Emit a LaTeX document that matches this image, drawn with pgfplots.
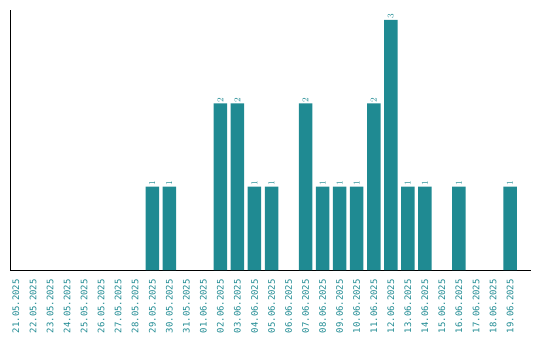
\documentclass[border=0pt]{standalone}
\usepackage{pgfplots}
\pgfplotsset{compat=1.18}
\usepackage{fontspec}
\setmainfont{DejaVu Sans Mono}
\definecolor{barteal}{RGB}{31,138,146}

\begin{document}
\begin{tikzpicture}
\begin{axis}[
    scale only axis,
    width=520.5bp, height=260bp,
    xmin=-0.35, xmax=30.2,
    ymin=0, ymax=3.12,
    axis x line=bottom, axis y line=left,
    axis line style={-, black, line width=0.9pt},
    ytick=\empty,
    xtick={0,...,29},
    xticklabels={21.05.2025,22.05.2025,23.05.2025,24.05.2025,25.05.2025,26.05.2025,27.05.2025,28.05.2025,29.05.2025,30.05.2025,31.05.2025,01.06.2025,02.06.2025,03.06.2025,04.06.2025,05.06.2025,06.06.2025,07.06.2025,08.06.2025,09.06.2025,10.06.2025,11.06.2025,12.06.2025,13.06.2025,14.06.2025,15.06.2025,16.06.2025,17.06.2025,18.06.2025,19.06.2025},
    major tick length=0pt,
    xticklabel style={rotate=90, anchor=east, text=barteal, font=\fontsize{9}{10}\selectfont, inner sep=0pt},
    tick label style={yshift=-9bp},
    ybar, bar width=13.5bp,
    nodes near coords,
    every node near coord/.append style={rotate=90, anchor=west, text=barteal, font=\fontsize{9.5}{10}\selectfont, inner sep=1bp},
    clip=false,
]
\addplot[fill=barteal, draw=none] coordinates {
    (8,1) (9,1) (12,2) (13,2) (14,1) (15,1) (17,2) (18,1) (19,1)
    (20,1) (21,2) (22,3) (23,1) (24,1) (26,1) (29,1)
};
\coordinate (o) at (rel axis cs:0,0);
\coordinate (t) at (rel axis cs:1,1);
\end{axis}
\path (o) ++(-10bp,-70bp) rectangle ([shift={(9.5bp,10bp)}]t);
\end{tikzpicture}
\end{document}
